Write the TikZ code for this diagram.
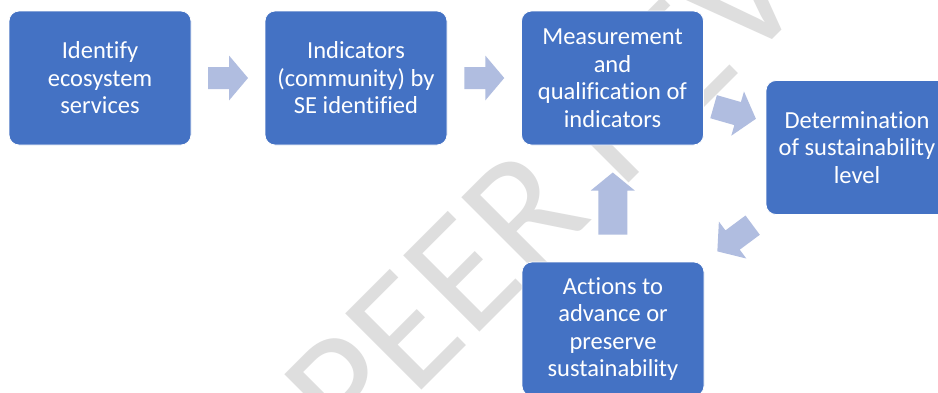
\documentclass[tikz,border=0pt]{standalone}
\usepackage{fontspec}
\setmainfont{Carlito}[Ligatures=CommonOff]
\usetikzlibrary{calc}
\definecolor{boxc}{HTML}{4472C4}
\definecolor{arrc}{RGB}{176,189,224}
\definecolor{wmc}{RGB}{222,222,222}
\tikzset{
  stepbox/.style={fill=boxc, draw=white, line width=0.8pt, rounded corners=10pt,
    minimum width=182pt, minimum height=134pt, text=white, align=center,
    font=\fontsize{24.5}{27.5}\selectfont, inner sep=0pt},
  wmark/.style={font=\fontsize{168}{168}\selectfont, text=wmc, rotate=45,
    anchor=base west, inner sep=0pt},
}
% #1 centre, #2 angle, #3 length, #4 shaft width, #5 head width, #6 head length
\newcommand\blockarr[6]{%
  \fill[arrc, shift={#1}, rotate=#2]
    ({-#3/2},{-#4/2}) -- ({#3/2-#6},{-#4/2}) -- ({#3/2-#6},{-#5/2}) --
    ({#3/2},0) -- ({#3/2-#6},{#5/2}) -- ({#3/2-#6},{#4/2}) --
    ({-#3/2},{#4/2}) -- cycle;}
\begin{document}
\begin{tikzpicture}[x=1pt,y=1pt]
\clip (0,0) rectangle (938,-392);
\fill[white] (0,0) rectangle (938,-392);
% watermark
\node[wmark] (wm) at (352,-460) {PEER REVIEW};
% box centres
\coordinate (c1) at (100,-78);
\coordinate (c2) at (356,-78);
\coordinate (c3) at (612.5,-78);
\coordinate (c4) at (857,-147.5);
\coordinate (c5) at (613,-329);
% arrows
\blockarr{($(c1)!0.5!(c2)$)}{0}{40}{22}{45}{19}
\blockarr{($(c2)!0.5!(c3)$)}{0}{40}{22}{45}{19}
\blockarr{($(c3)!0.5!(c4)$)}{-16}{44}{24}{46}{19}
\blockarr{($(c4)!0.5!(c5)$)}{216.6}{44}{24}{46}{19}
\blockarr{($(c5)!0.5!(c3)$)}{90}{62}{29}{44}{18}
% boxes
\node[stepbox] (b1) at (c1) {Identify\\ecosystem\\services};
\node[stepbox] (b2) at (c2) {Indicators\\(community) by\\SE identified};
\node[stepbox] (b3) at (c3) {Measurement\\and\\qualification of\\indicators};
\node[stepbox] (b4) at (c4) {Determination\\of sustainability\\level};
\node[stepbox] (b5) at (c5) {Actions to\\advance or\\preserve\\sustainability};
\end{tikzpicture}
\end{document}
